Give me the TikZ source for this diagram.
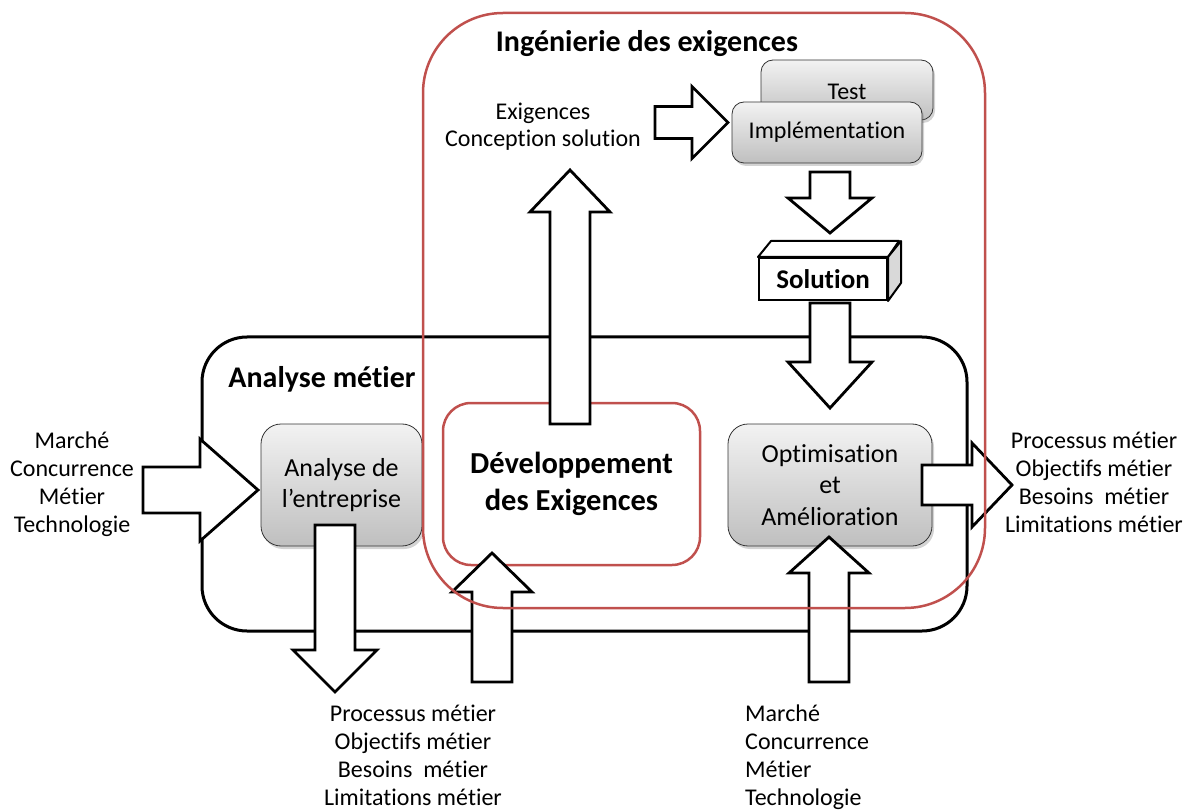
\documentclass[tikz,border=0pt]{standalone}
\usepackage{fontspec}
\setmainfont{Carlito}[RawFeature={-liga;-clig;-calt;-dlig}]
\usetikzlibrary{calc,shadows}
\definecolor{redline}{HTML}{C0504D}
\newcommand\barrow[5]{%
  \coordinate (bB) at ($(#2)!#5!(#1)$);
  \draw[blockarrow] ($(#1)!#3!90:(#2)$) -- ($(bB)!#3!-90:(#1)$) -- ($(bB)!#4!-90:(#1)$) -- (#2)
    -- ($(bB)!#4!90:(#1)$) -- ($(bB)!#3!90:(#1)$) -- ($(#1)!#3!-90:(#2)$) -- cycle;}
\tikzset{
  blockarrow/.style={draw=black, fill=white, line width=2.8pt, line join=miter},
  graybox/.style={draw=black!80, line width=0.8pt, top color=gray!10, bottom color=gray!50,
    drop shadow={shadow xshift=2pt, shadow yshift=-3pt, opacity=0.35},
    align=center, inner sep=0pt, font=\fontsize{26}{31.5}\selectfont},
  txt/.style={align=center, inner sep=0pt, font=\fontsize{24}{27.7}\selectfont},
  titletxt/.style={inner sep=0pt, font=\bfseries\fontsize{30}{36}\selectfont},
}
\begin{document}
\begin{tikzpicture}[x=1pt, y=-1pt]
\useasboundingbox (0,0) rectangle (1189,810);
% Analyse metier frame
\node[draw=black, line width=3pt, rounded corners=45pt, minimum width=765pt, minimum height=294pt, inner sep=0pt] (amframe) at (584.5,484) {};
% gray boxes
\node[graybox, rounded corners=20pt, minimum width=161pt, minimum height=122pt] (ana) at (341.5,485) {Analyse de\\l’entreprise};
\node[graybox, rounded corners=20pt, minimum width=204pt, minimum height=122pt] (opt) at (830,485) {Optimisation\\et\\Amélioration};
\node[graybox, rounded corners=12pt, minimum width=172pt, minimum height=60pt, text height=20pt, text depth=0pt,
  font=\fontsize{24}{28}\selectfont] (test) at (847,90) {Test};
\node[graybox, rounded corners=12pt, minimum width=190pt, minimum height=61pt,
  font=\fontsize{24}{28}\selectfont] (impl) at (827,132.5) {Implémentation};
% development box
\node[draw=redline, line width=2.5pt, fill=white, rounded corners=28pt, minimum width=257pt, minimum height=162pt,
  align=center, inner sep=0pt, font=\bfseries\fontsize{30.5}{37}\selectfont] (dev) at (571.5,484) {Développement\\des Exigences};
% solution cuboid
\node[draw=black, line width=2pt, fill=white, minimum width=128pt, minimum height=42pt, inner sep=0pt,
  font=\bfseries\fontsize{27}{30}\selectfont] (sol) at (823,279) {Solution};
\draw[line width=2pt, fill=white, line join=round] (sol.north west) -- ++(13,-16) -- ++(128,0) -- (sol.north east) -- cycle;
\draw[line width=2pt, fill=gray!30, line join=round] (sol.north east) -- ++(13,-16) -- ++(0,42) -- (sol.south east) -- cycle;
% arrow end points
\coordinate (inS) at (143,490);   \coordinate (inT) at (258,490);
\coordinate (anaS) at (335,525);  \coordinate (anaT) at (335,692);
\coordinate (devInS) at (492,682); \coordinate (devInT) at (492,553);
\coordinate (devS) at (570,424);  \coordinate (devT) at (570,170);
\coordinate (impS) at (655,122.5); \coordinate (impT) at (728,122.5);
\coordinate (impOS) at (830,172); \coordinate (impOT) at (830,233);
\coordinate (solS) at (830,303);  \coordinate (solT) at (830,408);
\coordinate (optInS) at (829,682); \coordinate (optInT) at (829,537);
\coordinate (outS) at (922,485);  \coordinate (outT) at (1012,485);
\barrow{inS}{inT}{23pt}{51pt}{58pt}
\barrow{anaS}{anaT}{20pt}{42pt}{42pt}
\barrow{devInS}{devInT}{20pt}{40pt}{39pt}
\barrow{devS}{devT}{20pt}{40pt}{42pt}
\barrow{impS}{impT}{16pt}{36pt}{36pt}
\barrow{impOS}{impOT}{20pt}{42pt}{35pt}
\barrow{solS}{solT}{20pt}{42pt}{46pt}
\barrow{optInS}{optInT}{20pt}{40pt}{36pt}
\barrow{outS}{outT}{20pt}{42pt}{40pt}
% Ingenierie frame
\node[draw=redline, line width=2.5pt, rounded corners=80pt, minimum width=562pt, minimum height=595pt, inner sep=0pt] (ieframe) at (704,310.5) {};
% titles
\node[titletxt, anchor=base] (tie) at (647,52) {Ingénierie des exigences};
\node[titletxt, anchor=base] (tam) at (322,387) {Analyse métier};
% texts
\node[txt, anchor=base] (exig) at (543,147) {Exigences\\Conception solution};
\node[txt, anchor=base] (left) at (72,532) {Marché\\Concurrence\\Métier\\Technologie};
\node[txt, anchor=base] (right) at (1094,532) {Processus métier\\Objectifs métier\\Besoins\ \ métier\\Limitations métier};
\node[txt, anchor=base] (botl) at (413,805) {Processus métier\\Objectifs métier\\Besoins\ \ métier\\Limitations métier};
\node[txt, align=left, anchor=base west] (botr) at (745,805) {Marché\\Concurrence\\Métier\\Technologie};
\end{tikzpicture}
\end{document}
